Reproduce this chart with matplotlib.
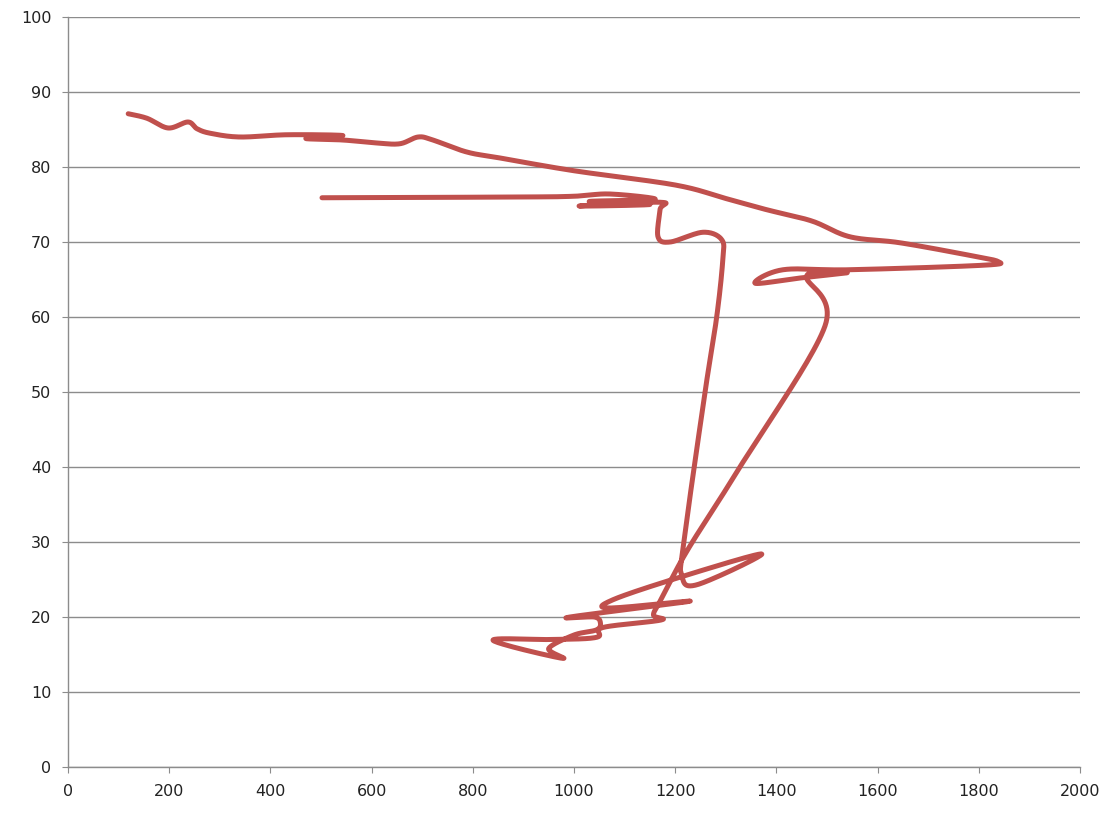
import numpy as np
import matplotlib
matplotlib.use("Agg")
import matplotlib.pyplot as plt

# Path of the series (x, y), in drawing order
x_vals = [119, 156, 198, 237, 255, 281, 340, 433, 543, 470, 543, 611, 656, 692, 721, 788, 854,
          1000, 1200, 1300, 1381, 1470, 1545, 1644, 1776, 1838, 1808, 1545, 1413, 1358, 1447, 1540,
          1460, 1496, 1328, 1225, 1175, 1157, 1172,
          1057, 1045, 960, 840, 976, 950, 1000, 1045, 1052, 1040, 992, 1229, 1070, 1077, 1209, 1371,
          1243, 1213, 1217, 1259, 1282, 1294, 1292, 1255, 1190, 1166, 1170, 1170,
          1010, 1150, 1030, 1160, 1071, 1000, 893, 502]
y_vals = [87.1, 86.5, 85.2, 86.0, 85.1, 84.5, 84.0, 84.3, 84.2, 83.8, 83.6, 83.2, 83.1, 84.0, 83.6, 82.0, 81.2,
          79.5, 77.6, 75.8, 74.3, 72.8, 70.7, 69.9, 68.3, 67.4, 66.9, 66.3, 66.3, 64.5, 65.2, 65.9,
          65.5, 58.8, 40.0, 29.0, 22.7, 20.3, 19.6,
          18.6, 17.3, 17.0, 16.9, 14.5, 15.8, 17.6, 18.3, 19.3, 20.0, 20.0, 22.1, 21.2, 22.3, 25.3, 28.4,
          24.3, 25.5, 30.0, 50.0, 60.0, 67.6, 70.3, 71.3, 70.0, 70.7, 74.3, 75.3,
          74.8, 75.0, 75.4, 75.7, 76.4, 76.1, 76.0, 75.9]

x_ticks = [0, 200, 400, 600, 800, 1000, 1200, 1400, 1600, 1800, 2000]
y_ticks = [0, 10, 20, 30, 40, 50, 60, 70, 80, 90, 100]


def smooth(xs, ys, n=24):
    # Catmull-Rom style smoothing (like Excel's smoothed lines)
    P = np.column_stack([xs, ys]).astype(float)
    P = np.vstack([P[0], P, P[-1]])
    out = []
    for i in range(1, len(P) - 2):
        p0, p1, p2, p3 = P[i - 1], P[i], P[i + 1], P[i + 2]
        t = np.linspace(0, 1, n, endpoint=False)[:, None]
        c1 = p1 + (p2 - p0) / 6
        c2 = p2 - (p3 - p1) / 6
        b = ((1 - t) ** 3) * p1 + 3 * ((1 - t) ** 2) * t * c1 + 3 * (1 - t) * t ** 2 * c2 + t ** 3 * p2
        out.append(b)
    out.append(P[-2][None, :])
    out = np.vstack(out)
    return out[:, 0], out[:, 1]


fig = plt.figure(figsize=(11.09, 8.14), dpi=100)
ax = fig.add_axes([68 / 1109, 1 - 767 / 814, (1080 - 68) / 1109, (767 - 17) / 814])

sx, sy = smooth(x_vals, y_vals)
ax.plot(sx, sy, color="#C0504D", lw=3.6, solid_capstyle="round", solid_joinstyle="round", zorder=3)

ax.set_xlim(0, 2000)
ax.set_ylim(0, 100)
ax.set_xticks(x_ticks)
ax.set_yticks(y_ticks)
ax.yaxis.grid(True, color="#8c8c8c", lw=1.0)
ax.set_axisbelow(True)
for s in ["top", "right"]:
    ax.spines[s].set_visible(False)
for s in ["left", "bottom"]:
    ax.spines[s].set_color("#8c8c8c")
    ax.spines[s].set_linewidth(1.0)
ax.tick_params(axis="both", colors="#8c8c8c", labelcolor="#222222", labelsize=11.5, length=4, direction="out")
ax.tick_params(axis="x", pad=8)
ax.tick_params(axis="y", pad=8)

fig.savefig("out.png", dpi=100)
